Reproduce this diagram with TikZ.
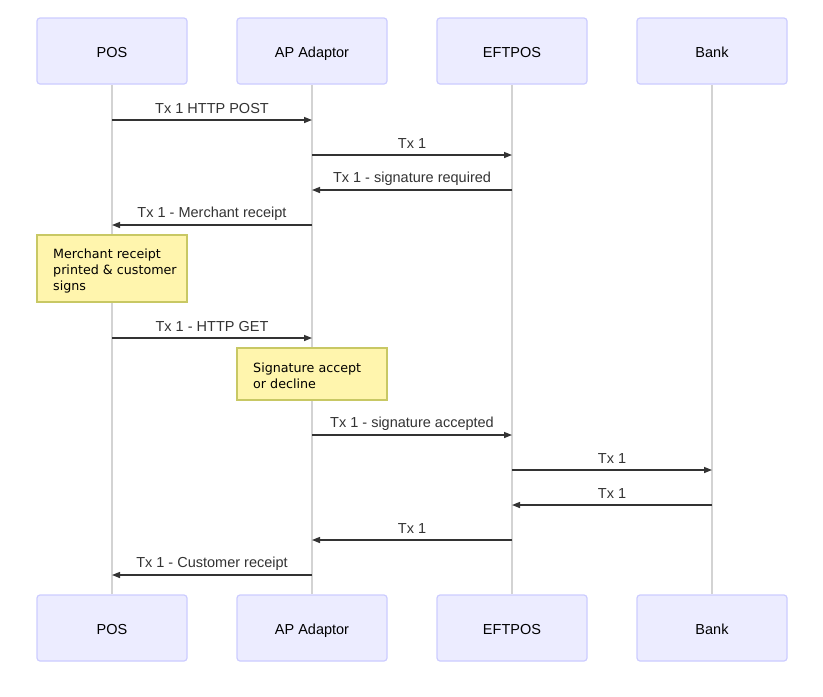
\documentclass[tikz,border=0pt]{standalone}
\usepackage{fontspec}
\setmainfont{Liberation Sans}
\newfontfamily\notefont{DejaVu Sans}
\usetikzlibrary{arrows.meta,backgrounds}
\definecolor{actfill}{HTML}{ECECFF}
\definecolor{actdraw}{HTML}{CCCCFF}
\definecolor{notefill}{HTML}{FFF5AD}
\definecolor{notedraw}{HTML}{C8C864}
\definecolor{lifeline}{HTML}{D3D3D3}
\definecolor{msgcol}{HTML}{333333}
\begin{document}
\begin{tikzpicture}[x=1pt,y=-1pt,
  actor/.style={draw=actdraw,fill=actfill,line width=1.2pt,rounded corners=3pt,minimum width=150pt,minimum height=66pt,inner sep=0pt,font=\fontsize{14.5}{17}\selectfont,text=black,text height=13.5pt,text depth=0pt},
  notebox/.style={draw=notedraw,fill=notefill,line width=1.2pt,minimum width=150pt,inner sep=0pt},
  notetext/.style={font=\notefont\fontsize{12.7}{16}\selectfont,text=black,align=left,anchor=north west,inner sep=0pt},
  life/.style={draw=lifeline,line width=1.6pt},
  msg/.style={draw=msgcol,line width=1.4pt,-{Triangle[length=8pt,width=6pt]}},
  lbl/.style={font=\fontsize{14.5}{17}\selectfont,text=msgcol,inner sep=0pt}]
\useasboundingbox (0,0) rectangle (823,697);
% actors top
\node[actor] (posT) at (112,51) {POS};
\node[actor] (apT) at (312,51) {AP Adaptor};
\node[actor] (efT) at (512,51) {EFTPOS};
\node[actor] (bkT) at (712,51) {Bank};
% actors bottom
\node[actor] (posB) at (112,628) {POS};
\node[actor] (apB) at (312,628) {AP Adaptor};
\node[actor] (efB) at (512,628) {EFTPOS};
\node[actor] (bkB) at (712,628) {Bank};
% lifelines
\begin{scope}[on background layer]
\draw[life] (posT) -- (posB);
\draw[life] (apT) -- (apB);
\draw[life] (efT) -- (efB);
\draw[life] (bkT) -- (bkB);
\end{scope}
% notes
\node[notebox,minimum height=67pt] (n1) at (112,268.5) {};
\node[notetext] (n1t) at (53,249) {Merchant receipt\\printed \& customer\\signs};
\node[notebox,minimum height=52pt] (n2) at (312,374) {};
\node[notetext] (n2t) at (253,362.5) {Signature accept\\or decline};
% messages
\draw[msg] (posT |- 0,120) -- (apT |- 0,120) node[lbl,midway,yshift=11pt] (l1) {Tx 1 HTTP POST};
\draw[msg] (apT |- 0,155) -- (efT |- 0,155) node[lbl,midway,yshift=11pt] (l2) {Tx 1};
\draw[msg] (efT |- 0,190) -- (apT |- 0,190) node[lbl,midway,yshift=11pt] (l3) {Tx 1 - signature required};
\draw[msg] (apT |- 0,225) -- (posT |- 0,225) node[lbl,midway,yshift=11pt] (l4) {Tx 1 - Merchant receipt};
\draw[msg] (posT |- 0,338) -- (apT |- 0,338) node[lbl,midway,yshift=11pt] (l5) {Tx 1 - HTTP GET};
\draw[msg] (apT |- 0,435) -- (efT |- 0,435) node[lbl,midway,yshift=11pt] (l6) {Tx 1 - signature accepted};
\draw[msg] (efT |- 0,470) -- (bkT |- 0,470) node[lbl,midway,yshift=11pt] (l7) {Tx 1};
\draw[msg] (bkT |- 0,505) -- (efT |- 0,505) node[lbl,midway,yshift=11pt] (l8) {Tx 1};
\draw[msg] (efT |- 0,540) -- (apT |- 0,540) node[lbl,midway,yshift=11pt] (l9) {Tx 1};
\draw[msg] (apT |- 0,575) -- (posT |- 0,575) node[lbl,midway,yshift=11pt] (l10) {Tx 1 - Customer receipt};
\end{tikzpicture}
\end{document}
